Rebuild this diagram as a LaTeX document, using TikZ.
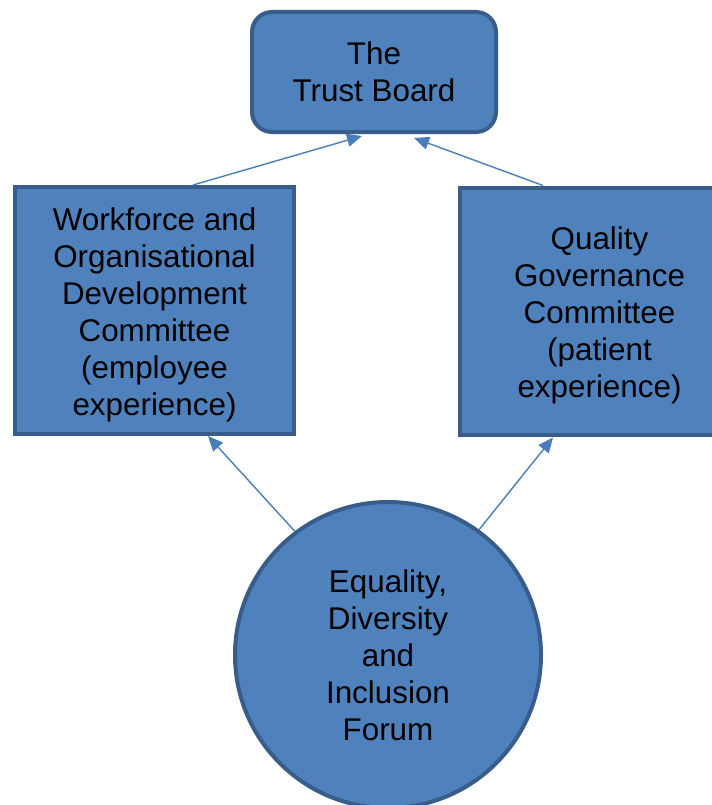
\documentclass[tikz,border=0pt]{standalone}
\usepackage{fontspec}
\setmainfont{Liberation Sans}
\usepackage{xcolor}
\usetikzlibrary{arrows.meta,positioning,calc}
\definecolor{boxfill}{HTML}{4F81BD}
\definecolor{boxline}{HTML}{385D8A}
\definecolor{linkcol}{HTML}{4A7EBB}
\newcommand{\topgap}{\rule{0pt}{31bp}}
\tikzset{
  unit/.style={draw=boxline, fill=boxfill, line width=4bp, inner sep=0pt, align=center},
  link/.style={draw=linkcol, line width=1.4bp, -{Triangle[length=15bp,width=13bp]}}
}

\begin{document}
\begin{tikzpicture}[x=1bp, y=-1bp, font=\fontsize{31.5}{37.2}\selectfont]
\useasboundingbox (0,0) rectangle (712,805);
% board on top
\node[unit, rounded corners=20bp, minimum width=244bp, minimum height=120bp] (board) at (374,72) {The\\Trust Board};
% committees
\node[unit, minimum width=279bp, minimum height=247bp] (wod) at (154.5,310.5)
  {\topgap Workforce and\\Organisational\\Development\\Committee\\(employee\\experience)};
\node[unit, minimum width=279bp, minimum height=247bp] (qgc) at (599.5,311)
  {\topgap Quality\\Governance\\Committee\\(patient\\experience)};
% forum circle
\node[unit, circle, minimum size=306bp] (edi) at (388,655)
  {Equality,\\Diversity\\and\\Inclusion\\Forum};
% reporting lines
\draw[link] ($(wod.north)+(38.5,0)$) -- ($(board.south)+(-12,2)$);
\draw[link] ($(qgc.north)+(-56.5,0)$) -- ($(board.south)+(40,4)$);
\draw[link] (edi.127) -- ($(wod.south)+(53.5,0)$);
\draw[link] (edi.54) -- ($(qgc.south)+(-46.5,1)$);
\end{tikzpicture}
\end{document}
